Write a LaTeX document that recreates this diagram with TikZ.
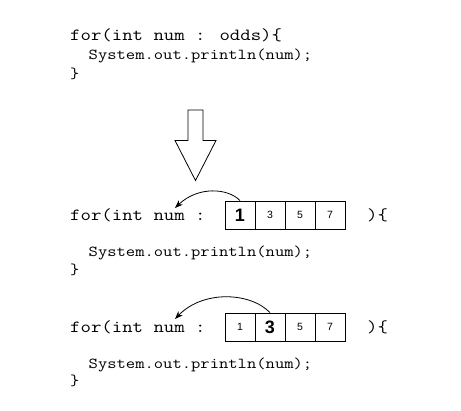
\documentclass[tikz,border=0pt]{standalone}
\usepackage{fontspec}
\usetikzlibrary{arrows.meta}
\newfontfamily\codefont{Latin Modern Mono}[FakeStretch=1.19]
\newfontfamily\cellfont{Liberation Sans}
\tikzset{
  bigcode/.style={font=\codefont\fontsize{17}{20}\selectfont, anchor=base west, inner sep=0pt},
  smallcode/.style={font=\codefont\fontsize{15.2}{18}\selectfont, anchor=base west, inner sep=0pt},
  cell/.style={draw, line width=0.8pt, minimum width=30pt, minimum height=28pt, inner sep=0pt, font=\cellfont\fontsize{10.5}{12}\selectfont},
  hot/.style={font=\cellfont\bfseries\fontsize{18}{20}\selectfont},
  curvearrow/.style={line width=0.8pt, -{Stealth[length=8pt,width=6pt]}},
}
\begin{document}
\begin{tikzpicture}[x=1pt,y=-1pt]
\useasboundingbox (0,0) rectangle (461,411);
% top block
\node[bigcode] (t1) at (70,41) {for(int num : odds)\{};
\node[smallcode] (t2) at (88.5,60) {System.out.println(num);};
\node[smallcode] (t3) at (70,79) {\}};
% block arrow
\draw[line width=0.8pt, fill=white] (188,110) -- (203,110) -- (203,140.5) -- (216,140.5) -- (195.5,180.5) -- (175,140.5) -- (188,140.5) -- cycle;
% middle block
\node[bigcode] (m1) at (70,221) {for(int num :};
\node[cell,hot] (ma) at (240,215) {1};
\node[cell] (mb) at (270,215) {3};
\node[cell] (mc) at (300,215) {5};
\node[cell] (md) at (330,215) {7};
\node[bigcode] (m2) at (367,221) {)\{};
\node[smallcode] (m3) at (88.5,257) {System.out.println(num);};
\node[smallcode] (m4) at (70,275) {\}};
\coordinate (mtip) at (175,208);
\draw[curvearrow] (ma.north) .. controls (228,188) and (198,186) .. (mtip);
% bottom block
\node[bigcode] (b1) at (70,333) {for(int num :};
\node[cell] (ba) at (240,327) {1};
\node[cell,hot] (bb) at (270,327) {3};
\node[cell] (bc) at (300,327) {5};
\node[cell] (bd) at (330,327) {7};
\node[bigcode] (b2) at (367,333) {)\{};
\node[smallcode] (b3) at (88.5,369) {System.out.println(num);};
\node[smallcode] (b4) at (70,386) {\}};
\coordinate (btip) at (175,319);
\draw[curvearrow] (bb.north) .. controls (250,292) and (203,290) .. (btip);
\end{tikzpicture}
\end{document}
